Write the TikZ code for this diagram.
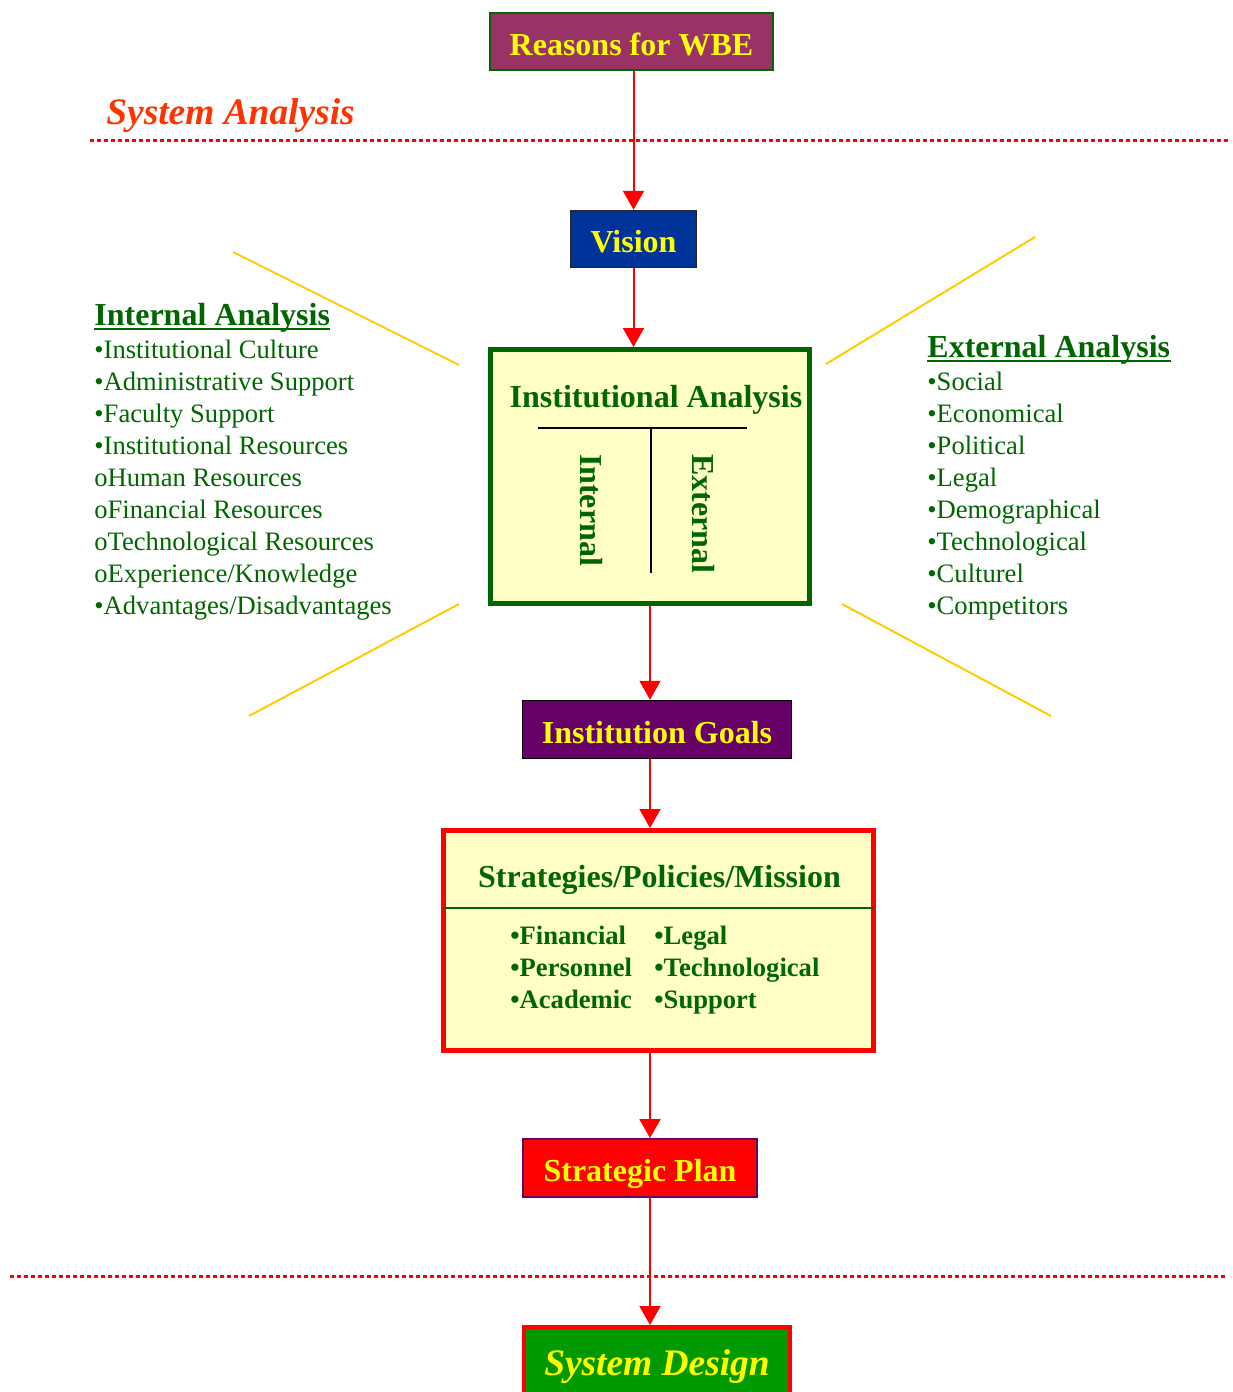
\documentclass[tikz,border=0pt]{standalone}
\usepackage{fontspec}
\setmainfont{Liberation Serif}
\usetikzlibrary{arrows.meta}

\definecolor{wbegreen}{HTML}{006600}
\definecolor{wbeyellow}{HTML}{FFFF00}
\definecolor{wberose}{HTML}{993366}
\definecolor{wbeblue}{HTML}{003399}
\definecolor{wbeplum}{HTML}{660066}
\definecolor{wbered}{HTML}{FF0000}
\definecolor{wbeorange}{HTML}{FF3300}
\definecolor{wbegold}{HTML}{FFCC00}
\definecolor{wbecream}{HTML}{FFFFC6}
\definecolor{wbegrass}{HTML}{009900}

\begin{document}
\begin{tikzpicture}
  [x=0.5pt,y=-0.5pt,every node/.style={inner sep=0pt}]

  \tikzstyle{box}    = [draw, line width=0.75pt, text=wbeyellow, text height=13.5pt, text depth=0pt,
                        font=\bfseries\fontsize{16}{19}\selectfont]
  \tikzstyle{panel}  = [draw, fill=wbecream, line width=2.5pt]
  \tikzstyle{head}   = [text=wbegreen, font=\bfseries\fontsize{16}{19}\selectfont]
  \tikzstyle{items}  = [text=wbegreen, align=left, anchor=north west, font=\fontsize{13.3}{16}\selectfont]
  \tikzstyle{phase}  = [text=wbeorange, anchor=base west, font=\bfseries\itshape\fontsize{18.7}{22}\selectfont]
  \tikzstyle{border} = [wbered, line width=1.5pt, dash pattern=on 2pt off 1.5pt]
  \tikzstyle{ray}    = [wbegold, line width=1pt]
  \tikzstyle{rule}   = [wbegreen, line width=1.25pt]

  \useasboundingbox (0,0) rectangle (1232,1392);

  \node[box, fill=wberose, draw=wbegreen, minimum width=141.5pt, minimum height=28.5pt]
        (reasons) at (631.5,41.5) {Reasons for WBE};
  \node[phase] (sysan) at (106,124) {System Analysis};
  \draw[border] (90,140) -- (1228,140);

  \node[box, fill=wbeblue, draw=black!85, minimum width=63pt, minimum height=28.5pt]
        (vision) at (633.5,239) {Vision};

  \node[panel, draw=wbegreen, minimum width=159.5pt, minimum height=127pt]
        (inst) at (650,476.5) {};
  \node[head, text height=12.5pt, text depth=0pt] (insttitle) at (656,395) {Institutional Analysis};
  \draw[line width=0.75pt] (538,428) -- (747,428) (651,428) -- (651,573);
  \node[head, rotate=-90] (internal) at (591,510) {Internal};
  \node[head, rotate=-90] (external) at (703,514) {External};

  \node[head, anchor=base west] (inthead) at (94,325) {Internal Analysis};
  \draw[rule] ([yshift=-2pt]inthead.base west) -- ([yshift=-2pt]inthead.base east);
  \node[items] (intlist) at (94,340)
       {•Institutional Culture\\•Administrative Support\\•Faculty Support\\
        •Institutional Resources\\oHuman Resources\\oFinancial Resources\\
        oTechnological Resources\\oExperience/Knowledge\\•Advantages/Disadvantages};
  \node[head, anchor=base west] (exthead) at (927,357) {External Analysis};
  \draw[rule] ([yshift=-2pt]exthead.base west) -- ([yshift=-2pt]exthead.base east);
  \node[items] (extlist) at (927,372)
       {•Social\\•Economical\\•Political\\•Legal\\•Demographical\\
        •Technological\\•Culturel\\•Competitors};

  \draw[ray] (233,252) -- (459,365);
  \draw[ray] (249,716) -- (459,604);
  \draw[ray] (1035,237) -- (826,364);
  \draw[ray] (842,604) -- (1051,716);

  \node[box, fill=wbeplum, draw=black, minimum width=134.5pt, minimum height=29pt]
        (goals) at (657,729.5) {Institution Goals};

  \node[panel, draw=wbered, minimum width=215pt, minimum height=110pt]
        (strat) at (658.5,940.5) {};
  \node[head, text height=12.5pt, text depth=0pt] (strattitle) at (659.5,875) {Strategies/Policies/Mission};
  \draw[wbegreen, line width=0.75pt] (443,908) -- (874,908);
  \node[items, font=\bfseries\fontsize{13.3}{16}\selectfont] (stratleft) at (510,926)
       {•Financial\\•Personnel\\•Academic};
  \node[items, font=\bfseries\fontsize{13.3}{16}\selectfont] (stratright) at (654,926)
       {•Legal\\•Technological\\•Support};

  \node[box, fill=wbered, draw=wbeplum, line width=1pt, minimum width=117pt, minimum height=29pt]
        (plan) at (640,1168) {Strategic Plan};
  \draw[border] (10,1276) -- (1228,1276);

  \node[box, fill=wbegrass, draw=wbered, line width=1.75pt, minimum width=133pt, minimum height=40pt,
        text height=12.7pt, text depth=4.1pt, font=\bfseries\itshape\fontsize{18.7}{22}\selectfont]
        (design) at (657,1366.75) {System Design};

  \path[-{Triangle[width=10.5pt,length=9.5pt]}, wbered, line width=1pt]
        (reasons.south -| vision)       edge (vision)
        (vision)                        edge (vision.south |- inst.north)
        (inst.south)                    edge (inst.south |- goals.north)
        (inst.south |- goals.south)     edge (inst.south |- strat.north)
        (inst.south |- strat.south)     edge (inst.south |- plan.north)
        (inst.south |- plan.south)      edge (inst.south |- design.north);
\end{tikzpicture}
\end{document}
